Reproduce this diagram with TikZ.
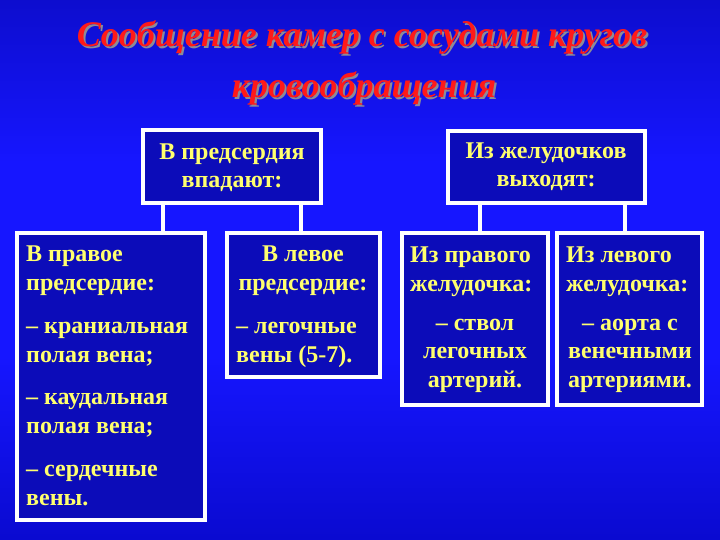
\documentclass[tikz,border=0pt]{standalone}
\usepackage{fontspec}
\setmainfont{Liberation Serif}
\definecolor{bgtop}{RGB}{5,5,110}
\definecolor{bgup}{RGB}{10,10,190}
\definecolor{bgmid}{RGB}{22,22,255}
\definecolor{bglow}{RGB}{8,8,200}
\definecolor{bgbot}{RGB}{6,6,115}
\definecolor{boxfill}{RGB}{12,12,185}
\definecolor{txt}{RGB}{255,255,110}
\definecolor{ttl}{RGB}{255,25,25}
\definecolor{ttlshadow}{RGB}{140,140,150}
\pgfdeclareverticalshading{bgshade}{100bp}{color(0bp)=(bgbot); color(22bp)=(bglow); color(42bp)=(bgmid); color(60bp)=(bgmid); color(80bp)=(bgup); color(100bp)=(bgtop)}
\newcommand{\shadowtext}[1]{\rlap{\hspace{2pt}\raisebox{-2pt}{\textcolor{ttlshadow}{#1}}}\textcolor{ttl}{#1}}
\tikzset{
  box/.style={draw=white, line width=4pt, fill=boxfill, inner sep=0pt},
  link/.style={draw=white, line width=4pt},
  bt/.style={text=txt, inner sep=0pt, font=\bfseries\fontsize{24}{28.5}\selectfont},
  btl/.style={bt, anchor=base west, align=left},
  btc/.style={bt, anchor=base, align=center},
  ttlstyle/.style={inner sep=0pt, anchor=base, font=\bfseries\itshape\fontsize{36}{40}\selectfont}
}
\begin{document}
\begin{tikzpicture}[x=1pt,y=-1pt]
\useasboundingbox (0,0) rectangle (720,540);
\shade[shading=bgshade] (0,0) rectangle (720,540);
% title with shadow
\node[ttlstyle] (t1) at (362,47) {\shadowtext{Сообщение камер с сосудами кругов}};
\node[ttlstyle] (t2) at (364,98) {\shadowtext{кровообращения}};
% coordinates for connector x positions
\coordinate (xa) at (163,0);
\coordinate (xb) at (301,0);
\coordinate (xc) at (480,0);
\coordinate (xd) at (625,0);
% boxes
\node[box, minimum width=178pt, minimum height=73pt] (A) at (232,166.5) {};
\node[box, minimum width=197pt, minimum height=72pt] (B) at (546.5,167) {};
\node[box, minimum width=188pt, minimum height=287pt] (L1) at (111,376.5) {};
\node[box, minimum width=153pt, minimum height=144pt] (L2) at (303.5,305) {};
\node[box, minimum width=146pt, minimum height=172pt] (R1) at (475,319) {};
\node[box, minimum width=145pt, minimum height=172pt] (R2) at (629.5,319) {};
% connectors
\draw[link] (A.south -| xa) -- (L1.north -| xa);
\draw[link] (A.south -| xb) -- (L2.north -| xb);
\draw[link] (B.south -| xc) -- (R1.north -| xc);
\draw[link] (B.south -| xd) -- (R2.north -| xd);
% texts (anchor = baseline of last line)
\node[btc] (At) at (232,188) {В предсердия\\впадают:};
\node[btc] (Bt) at (546,187) {Из желудочков\\выходят:};
\node[btl] (L1a) at (26,290) {В правое\\предсердие:};
\node[btl] (L1b) at (26,362) {– краниальная\\полая вена;};
\node[btl] (L1c) at (26,433) {– каудальная\\полая вена;};
\node[btl] (L1d) at (26,505) {– сердечные\\вены.};
\node[btc] (L2a) at (303,290) {В левое\\предсердие:};
\node[btl] (L2b) at (236,362) {– легочные\\вены (5-7).};
\node[btl] (R1a) at (410,291) {Из правого\\желудочка:};
\node[btc] (R1b) at (475,387) {– ствол\\легочных\\артерий.};
\node[btl] (R2a) at (566,291) {Из левого\\желудочка:};
\node[btc] (R2b) at (630,387) {– аорта с\\венечными\\артериями.};
\end{tikzpicture}
\end{document}
